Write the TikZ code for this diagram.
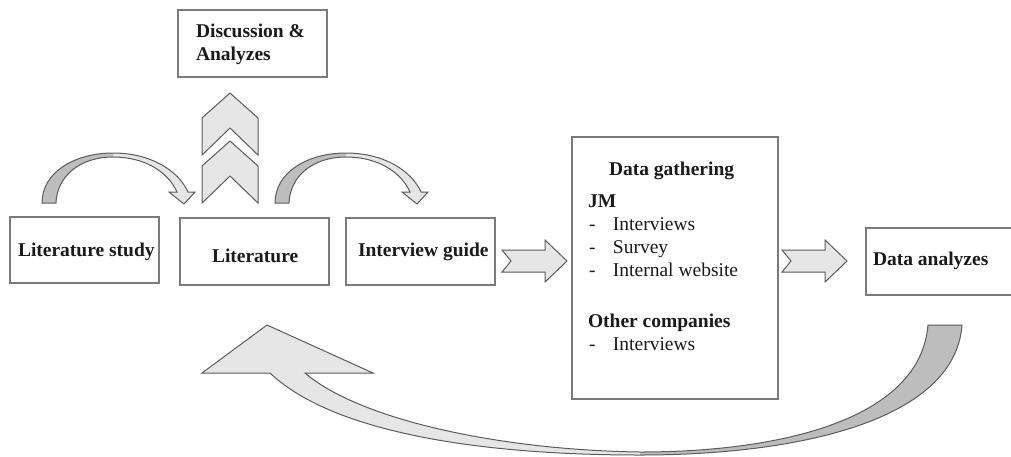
\documentclass[tikz,border=0pt]{standalone}
\usepackage{fontspec}
\setmainfont{Liberation Serif}
\usetikzlibrary{calc}

\definecolor{boxline}{HTML}{7A7A7A}
\definecolor{arrowline}{HTML}{5C5C5C}
\definecolor{lightfill}{HTML}{E6E6E6}
\definecolor{darkfill}{HTML}{BDBDBD}
\definecolor{ink}{HTML}{1A1A1A}

\begin{document}
\begin{tikzpicture}[x=1pt,y=-1pt,
  box/.style={draw=boxline, line width=1.5pt, fill=white, rectangle,
    inner sep=0pt, outer sep=0pt, anchor=north west},
  txt/.style={inner sep=0pt, outer sep=0pt, anchor=base west, text=ink,
    font=\fontsize{19.5}{23}\selectfont},
  btxt/.style={txt, font=\fontsize{19.5}{23}\selectfont\bfseries},
  shapeline/.style={draw=arrowline, line width=1pt, line join=miter},
  % notched block arrow, origin at the left end of the shaft, centre line
  notcharrow/.pic={
    \path[shapeline, fill=lightfill]
      (0,-11) -- (43,-11) -- (43,-21) -- (65,0) -- (43,21) -- (43,11)
      -- (0,11) -- (9,0) -- cycle;
  },
  % chevron pointing up, origin at the apex
  chevronup/.pic={
    \path[shapeline, fill=lightfill]
      (0,0) -- (28,25) -- (28,62) -- (0,35) -- (-28,62) -- (-28,25) -- cycle;
  },
  % curved arrow bending over to the right, origin at the left foot of the tail
  curvedover/.pic={
    \fill[lightfill]
      (71,-50) .. controls (108,-50) and (136,-33) .. (146,-11)
      -- (153,-11) -- (142,1) -- (127,-11) -- (135,-11)
      .. controls (126,-31) and (103,-46) .. (71,-46) -- cycle;
    \fill[darkfill]
      (0,0) .. controls (0,-31) and (33,-50) .. (71,-50)
      -- (71,-46) .. controls (38,-46) and (15,-27) .. (14,0) -- cycle;
    \draw[shapeline]
      (0,0) .. controls (0,-31) and (33,-50) .. (71,-50)
      .. controls (108,-50) and (136,-33) .. (146,-11)
      -- (153,-11) -- (142,1) -- (127,-11) -- (135,-11)
      .. controls (126,-31) and (103,-46) .. (71,-46)
      .. controls (38,-46) and (15,-27) .. (14,0) -- cycle;
  }
]
\useasboundingbox (0,0) rectangle (1011,456);

% boxes
\node[box, minimum width=149pt, minimum height=67pt] (disc) at (178,10) {};
\node[box, minimum width=149pt, minimum height=66pt] (ls) at (10,217) {};
\node[box, minimum width=149pt, minimum height=67pt] (lit) at (180,218) {};
\node[box, minimum width=149pt, minimum height=67pt] (ig) at (346,218) {};
\node[box, minimum width=206pt, minimum height=262pt] (dg) at (572,137) {};
\node[box, minimum width=148pt, minimum height=67pt] (da) at (866,228) {};

% box texts
\node[btxt] (disc-a) at (196,37) {Discussion \&};
\node[btxt] (disc-b) at (196,60) {Analyzes};
\node[btxt] (ls-t) at (18,256) {Literature study};
\node[btxt] (lit-t) at (212,262) {Literature};
\node[btxt] (ig-t) at (358,256) {Interview guide};
\node[btxt] (da-t) at (873,265) {Data analyzes};

\node[btxt] (dg-t) at (609,175) {Data gathering};
\node[btxt] (dg-jm) at (588,207) {JM};
\node[txt] (dg-1) at (589,230) {\makebox[24pt][l]{-}Interviews};
\node[txt] (dg-2) at (589,253) {\makebox[24pt][l]{-}Survey};
\node[txt] (dg-3) at (589,276) {\makebox[24pt][l]{-}Internal website};
\node[btxt] (dg-oc) at (588,327) {Other companies};
\node[txt] (dg-4) at (589,350) {\makebox[24pt][l]{-}Interviews};

% chevrons leading up to the discussion box
\pic at (230,93) {chevronup};
\pic at (230,141) {chevronup};

% curved arrows over the first boxes
\pic at ($(ls.north west)+(32,-14)$) {curvedover};
\pic at ($(lit.north west)+(95,-15)$) {curvedover};

% notched arrows towards data gathering and data analysis
\coordinate (n1) at ($(ig.east)+(7,9.5)$);
\coordinate (n2) at ($(dg.east)+(4,-7)$);
\pic at (n1) {notcharrow};
\pic at (n2) {notcharrow};

% large feedback arrow from the analysis back to the literature
\fill[lightfill]
  (270,373) -- (202,373) -- (267,325) -- (373,373) -- (305,373)
  .. controls (360,420) and (500,450) .. (640,452)
  -- (640,455)
  .. controls (470,455) and (330,430) .. (270,373) -- cycle;
\fill[darkfill]
  (640,452) .. controls (780,452) and (920,420) .. (928,325)
  -- (962,325)
  .. controls (955,420) and (800,455) .. (640,455) -- cycle;
\draw[shapeline]
  (270,373) -- (202,373) -- (267,325) -- (373,373) -- (305,373)
  .. controls (360,420) and (500,450) .. (640,452)
  .. controls (780,452) and (920,420) .. (928,325)
  -- (962,325)
  .. controls (955,420) and (800,455) .. (640,455)
  .. controls (470,455) and (330,430) .. (270,373) -- cycle;
\end{tikzpicture}
\end{document}
